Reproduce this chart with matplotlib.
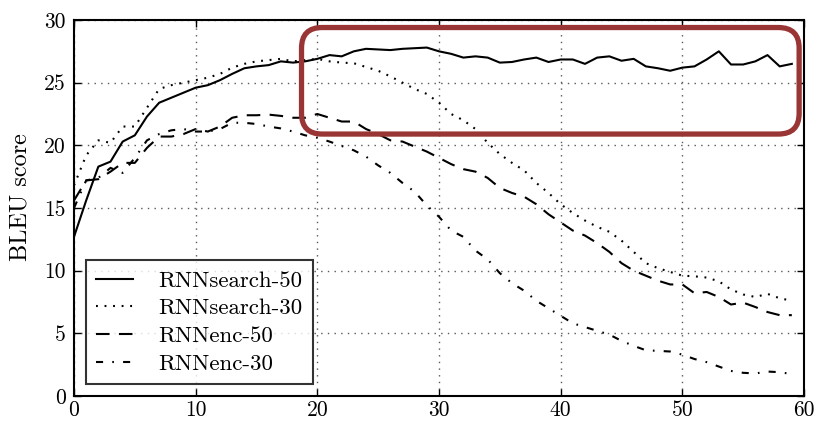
import matplotlib
matplotlib.use("Agg")
import matplotlib.pyplot as plt
from matplotlib.patches import FancyBboxPatch
import numpy as np

plt.rcParams['font.family'] = ['cmr10', 'DejaVu Serif']
plt.rcParams['axes.unicode_minus'] = False
plt.rcParams['mathtext.fontset'] = 'cm'

sentence_length = list(range(0, 60))

rnnsearch_50 = [12.7, 15.6, 18.3, 18.7, 20.3, 20.8, 22.3, 23.4, 23.8, 24.2,
                24.6, 24.8, 25.2, 25.7, 26.15, 26.3, 26.4, 26.7, 26.6, 26.7,
                26.9, 27.2, 27.1, 27.5, 27.7, 27.65, 27.6, 27.7, 27.75, 27.8,
                27.5, 27.3, 27.0, 27.1, 27.0, 26.6, 26.65, 26.85, 27.0, 26.65,
                26.85, 26.85, 26.5, 27.0, 27.1, 26.75, 26.9, 26.3, 26.15, 25.95,
                26.2, 26.3, 26.85, 27.5, 26.45, 26.45, 26.7, 27.2, 26.3, 26.5]

rnnsearch_30 = [16.8, 19.2, 20.4, 20.2, 21.5, 21.5, 23.0, 24.5, 24.8, 25.0,
                25.2, 25.4, 25.7, 26.2, 26.5, 26.7, 26.8, 26.9, 26.7, 26.8,
                26.9, 26.7, 26.6, 26.55, 26.25, 25.95, 25.5, 25.0, 24.5, 24.1,
                23.4, 22.5, 22.0, 21.3, 20.2, 19.3, 18.6, 18.0, 17.0, 16.2,
                15.3, 14.6, 14.0, 13.5, 13.1, 12.4, 11.5, 10.6, 10.2, 9.9,
                9.6, 9.55, 9.45, 9.15, 8.5, 8.1, 7.9, 8.15, 7.8, 7.6]

rnnenc_50 = [15.6, 17.2, 17.3, 17.9, 18.6, 18.6, 19.8, 20.7, 20.7, 20.9,
             21.3, 21.1, 21.5, 22.2, 22.4, 22.4, 22.45, 22.35, 22.2, 22.2,
             22.5, 22.2, 21.9, 21.9, 21.3, 20.9, 20.4, 20.3, 19.9, 19.5,
             19.0, 18.5, 18.1, 17.9, 17.4, 16.6, 16.2, 15.9, 15.3, 14.5,
             13.85, 13.2, 12.8, 12.2, 11.5, 10.6, 10.0, 9.6, 9.2, 8.9,
             8.9, 8.2, 8.3, 7.9, 7.3, 7.45, 7.1, 6.7, 6.45, 6.45]

rnnenc_30 = [15.0, 17.2, 17.4, 18.2, 17.8, 19.0, 20.4, 20.9, 21.2, 21.3,
             21.1, 21.1, 21.3, 21.8, 21.8, 21.7, 21.5, 21.35, 21.1, 20.8,
             20.6, 20.3, 19.95, 19.6, 19.1, 18.4, 17.8, 17.0, 16.3, 15.2,
             14.3, 13.2, 12.7, 11.6, 10.9, 9.8, 9.0, 8.4, 7.6, 7.0,
             6.4, 5.8, 5.5, 5.2, 4.9, 4.4, 4.0, 3.65, 3.6, 3.55,
             3.3, 2.95, 2.7, 2.35, 2.0, 1.85, 1.8, 1.95, 1.9, 1.75]

series_labels = ["RNNsearch-50", "RNNsearch-30", "RNNenc-50", "RNNenc-30"]
x_ticks = [0, 10, 20, 30, 40, 50, 60]
y_ticks = [0, 5, 10, 15, 20, 25, 30]
y_label = "BLEU score"

# highlight box (data coordinates)
highlight_x = (18.7, 59.6)
highlight_y = (20.9, 29.4)

fig = plt.figure(figsize=(8.17, 4.22), dpi=100)
ax = fig.add_axes([74 / 817, 1 - 396 / 422, 730 / 817, 376 / 422])

lw = 1.5
styles = ['-', (0, (0.9, 3.2)), (0, (6.5, 4.5)), (0, (3.4, 4.4, 0.8, 4.4))]
for ys, lab, ls in zip([rnnsearch_50, rnnsearch_30, rnnenc_50, rnnenc_30], series_labels, styles):
    ax.plot(sentence_length, ys, color='black', linestyle=ls, linewidth=lw, label=lab,
            dash_capstyle='butt')

ax.set_xlim(0, 60)
ax.set_ylim(0, 30)
ax.set_xticks(x_ticks)
ax.set_yticks(y_ticks)
ax.tick_params(direction='in', top=True, right=True, length=5, width=1.0,
               labelsize=15.5, pad=6)
ax.tick_params(axis='x', pad=3.5)
ax.grid(True, linestyle=(0, (1, 3.8)), color='0.35', linewidth=1.0)
for sp in ax.spines.values():
    sp.set_linewidth(1.5)
ax.set_ylabel(y_label, fontsize=17.5)
ax.yaxis.set_label_coords(-0.058, 0.53)

leg = ax.legend(loc='lower left', bbox_to_anchor=(0.0164, 0.032), borderaxespad=0,
                fontsize=16.5, frameon=True, fancybox=False, edgecolor='black',
                handlelength=1.6, handletextpad=1.1, labelspacing=0.33,
                borderpad=0.45)
leg.get_frame().set_linewidth(1.5)

rect = FancyBboxPatch((highlight_x[0], highlight_y[0]),
                      highlight_x[1] - highlight_x[0], highlight_y[1] - highlight_y[0],
                      boxstyle="round,pad=0,rounding_size=1.7", mutation_aspect=0.97,
                      edgecolor='#9a3535', facecolor='none', linewidth=3.8,
                      clip_on=False, transform=ax.transData, zorder=6)
ax.add_patch(rect)

fig.savefig("out.png", dpi=100)
